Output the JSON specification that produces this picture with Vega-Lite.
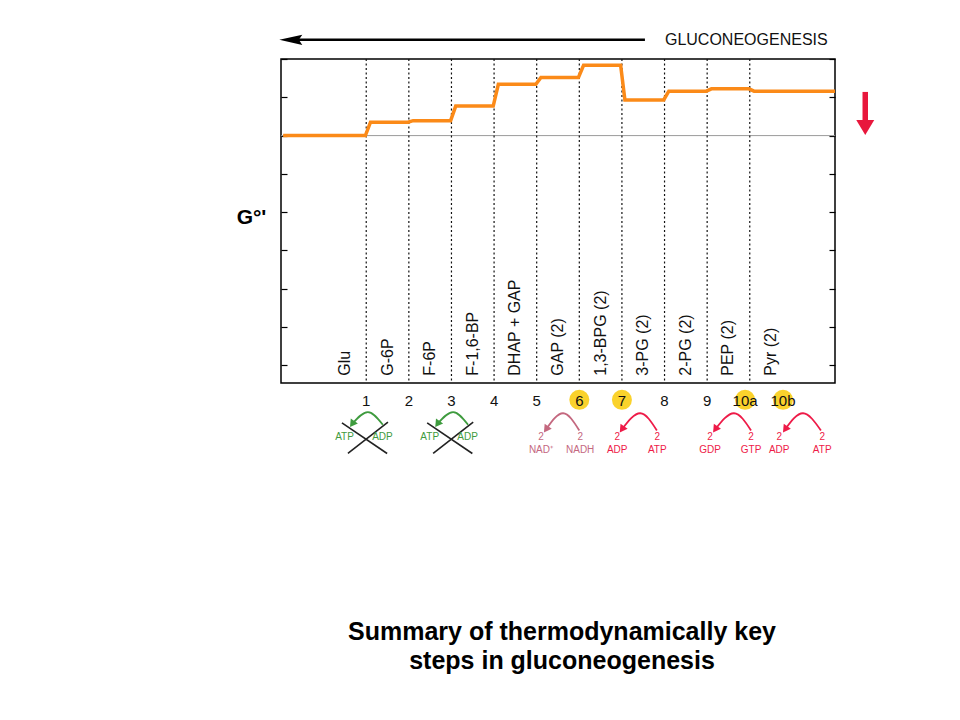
{
  "$schema": "https://vega.github.io/schema/vega-lite/v6.json",
  "autosize": "none",
  "width": 554,
  "height": 324,
  "padding": {"left": 281, "top": 59, "right": 125, "bottom": 337},
  "background": "white",
  "title": {
    "text": ["Summary of thermodynamically key", "steps in gluconeogenesis"],
    "orient": "bottom",
    "anchor": "middle",
    "offset": 165,
    "dx": 4,
    "font": "Liberation Sans",
    "fontSize": 25,
    "fontWeight": "bold",
    "color": "#000",
    "lineHeight": 29
  },
  "config": {
    "font": "Liberation Sans",
    "view": {"stroke": "#000", "strokeWidth": 1.5},
    "text": {"font": "Liberation Sans"}
  },
  "resolve": {"axis": {"y": "independent"}},
  "datasets": {
    "steps": [
      {"x": 0.05, "y": 0}, {"x": 1.98, "y": 0},
      {"x": 2.1, "y": 0.35}, {"x": 2.98, "y": 0.35},
      {"x": 3.1, "y": 0.39}, {"x": 3.98, "y": 0.39},
      {"x": 4.1, "y": 0.77}, {"x": 4.98, "y": 0.77},
      {"x": 5.1, "y": 1.34}, {"x": 5.98, "y": 1.34},
      {"x": 6.1, "y": 1.52}, {"x": 6.98, "y": 1.52},
      {"x": 7.1, "y": 1.835}, {"x": 7.97, "y": 1.835},
      {"x": 8.07, "y": 0.93}, {"x": 8.98, "y": 0.93},
      {"x": 9.1, "y": 1.16}, {"x": 9.98, "y": 1.16},
      {"x": 10.1, "y": 1.22}, {"x": 10.98, "y": 1.22},
      {"x": 11.1, "y": 1.16}, {"x": 13, "y": 1.16}
    ],
    "compounds": [
      {"x": 1.5, "name": "Glu"},
      {"x": 2.5, "name": "G-6P"},
      {"x": 3.5, "name": "F-6P"},
      {"x": 4.5, "name": "F-1,6-BP"},
      {"x": 5.5, "name": "DHAP + GAP"},
      {"x": 6.5, "name": "GAP (2)"},
      {"x": 7.5, "name": "1,3-BPG (2)"},
      {"x": 8.5, "name": "3-PG (2)"},
      {"x": 9.5, "name": "2-PG (2)"},
      {"x": 10.5, "name": "PEP (2)"},
      {"x": 11.5, "name": "Pyr (2)"}
    ],
    "reactions": [
      {"x": 2, "step": "1", "key": false},
      {"x": 3, "step": "2", "key": false},
      {"x": 4, "step": "3", "key": false},
      {"x": 5, "step": "4", "key": false},
      {"x": 6, "step": "5", "key": false},
      {"x": 7, "step": "6", "key": true},
      {"x": 8, "step": "7", "key": true},
      {"x": 9, "step": "8", "key": false},
      {"x": 10, "step": "9", "key": false},
      {"x": 10.89, "step": "10a", "key": true},
      {"x": 11.78, "step": "10b", "key": true}
    ],
    "arcs": [
      {"arc": "s1", "kind": "bypassed", "x": 1.67, "y": -7.53},
      {"arc": "s1", "kind": "bypassed", "x": 2.04, "y": -7.22},
      {"arc": "s1", "kind": "bypassed", "x": 2.39, "y": -7.55},
      {"arc": "s3", "kind": "bypassed", "x": 3.67, "y": -7.53},
      {"arc": "s3", "kind": "bypassed", "x": 4.04, "y": -7.22},
      {"arc": "s3", "kind": "bypassed", "x": 4.39, "y": -7.55},
      {"arc": "s6", "kind": "redox", "x": 6.22, "y": -7.67},
      {"arc": "s6", "kind": "redox", "x": 6.62, "y": -7.25},
      {"arc": "s6", "kind": "redox", "x": 7.0, "y": -7.7},
      {"arc": "s7", "kind": "energy", "x": 8.0, "y": -7.67},
      {"arc": "s7", "kind": "energy", "x": 8.43, "y": -7.25},
      {"arc": "s7", "kind": "energy", "x": 8.82, "y": -7.7},
      {"arc": "s10a", "kind": "energy", "x": 10.19, "y": -7.67},
      {"arc": "s10a", "kind": "energy", "x": 10.63, "y": -7.25},
      {"arc": "s10a", "kind": "energy", "x": 11.03, "y": -7.7},
      {"arc": "s10b", "kind": "energy", "x": 11.83, "y": -7.67},
      {"arc": "s10b", "kind": "energy", "x": 12.25, "y": -7.25},
      {"arc": "s10b", "kind": "energy", "x": 12.67, "y": -7.7}
    ],
    "heads": [
      {"kind": "bypassed", "x": 1.67, "y": -7.53},
      {"kind": "bypassed", "x": 3.67, "y": -7.53},
      {"kind": "redox", "x": 6.22, "y": -7.67},
      {"kind": "energy", "x": 8.0, "y": -7.67},
      {"kind": "energy", "x": 10.19, "y": -7.67},
      {"kind": "energy", "x": 11.83, "y": -7.67}
    ],
    "cofactors": [
      {"kind": "bypassed", "x": 1.49, "y": -7.87, "t": "ATP"},
      {"kind": "bypassed", "x": 2.38, "y": -7.87, "t": "ADP"},
      {"kind": "bypassed", "x": 3.49, "y": -7.87, "t": "ATP"},
      {"kind": "bypassed", "x": 4.38, "y": -7.87, "t": "ADP"},
      {"kind": "redox", "x": 6.1, "y": -7.88, "t": "2"},
      {"kind": "redox", "x": 6.1, "y": -8.2, "t": "NAD⁺"},
      {"kind": "redox", "x": 7.02, "y": -7.88, "t": "2"},
      {"kind": "redox", "x": 7.02, "y": -8.2, "t": "NADH"},
      {"kind": "energy", "x": 7.89, "y": -7.88, "t": "2"},
      {"kind": "energy", "x": 7.89, "y": -8.2, "t": "ADP"},
      {"kind": "energy", "x": 8.83, "y": -7.88, "t": "2"},
      {"kind": "energy", "x": 8.83, "y": -8.2, "t": "ATP"},
      {"kind": "energy", "x": 10.07, "y": -7.88, "t": "2"},
      {"kind": "energy", "x": 10.07, "y": -8.2, "t": "GDP"},
      {"kind": "energy", "x": 11.03, "y": -7.88, "t": "2"},
      {"kind": "energy", "x": 11.03, "y": -8.2, "t": "GTP"},
      {"kind": "energy", "x": 11.69, "y": -7.88, "t": "2"},
      {"kind": "energy", "x": 11.69, "y": -8.2, "t": "ADP"},
      {"kind": "energy", "x": 12.7, "y": -7.88, "t": "2"},
      {"kind": "energy", "x": 12.7, "y": -8.2, "t": "ATP"}
    ],
    "crosses": [
      {"x": 1.43, "y": -7.5, "x2": 2.49, "y2": -8.3},
      {"x": 1.57, "y": -8.3, "x2": 2.51, "y2": -7.48},
      {"x": 3.43, "y": -7.5, "x2": 4.49, "y2": -8.3},
      {"x": 3.57, "y": -8.3, "x2": 4.51, "y2": -7.48}
    ]
  },
  "layer": [
    {
      "data": {"values": [{"y": 0}]},
      "mark": {"type": "rule", "color": "#9a9a9a", "strokeWidth": 1},
      "encoding": {
        "y": {
          "field": "y", "type": "quantitative",
          "scale": {"domain": [-6.46, 2], "nice": false, "zero": false},
          "axis": {
            "orient": "left", "values": [-6, -5, -4, -3, -2, -1, 0, 1, 2],
            "tickSize": -6, "tickColor": "#000", "tickWidth": 1.2,
            "labels": false, "domain": false, "grid": false,
            "title": "G°'", "titleAngle": 0, "titleX": -30, "titleY": 158,
            "titleAlign": "center", "titleBaseline": "middle",
            "titleFont": "Liberation Sans", "titleFontSize": 21, "titleFontWeight": "bold", "titleColor": "#000"
          }
        }
      }
    },
    {
      "data": {"values": [{"x": 2}, {"x": 3}, {"x": 4}, {"x": 5}, {"x": 6}, {"x": 7}, {"x": 8}, {"x": 9}, {"x": 10}, {"x": 11}]},
      "mark": {"type": "rule", "color": "#111", "strokeWidth": 1.2, "strokeDash": [2, 2.5]},
      "encoding": {
        "x": {
          "field": "x", "type": "quantitative",
          "scale": {"domain": [0, 13], "nice": false, "zero": false},
          "axis": {
            "orient": "bottom", "values": [2, 3, 4, 5, 6, 7, 8, 9, 10, 11],
            "tickSize": -5, "tickColor": "#000", "tickWidth": 1.2,
            "labels": false, "domain": false, "grid": false, "title": null
          }
        }
      }
    },
    {
      "data": {"name": "steps"},
      "mark": {"type": "line", "color": "#FB8A18", "strokeWidth": 3.5, "strokeJoin": "miter"},
      "encoding": {
        "x": {"field": "x", "type": "quantitative", "scale": {"domain": [0, 13], "nice": false, "zero": false}, "axis": null},
        "y": {"field": "y", "type": "quantitative", "scale": {"domain": [-6.46, 2], "nice": false, "zero": false},
          "axis": {
            "orient": "right", "values": [-6, -5, -4, -3, -2, -1, 0, 1, 2],
            "tickSize": -6, "tickColor": "#000", "tickWidth": 1.2,
            "labels": false, "domain": false, "grid": false, "title": null
          }
        }
      }
    },
    {
      "data": {"name": "compounds"},
      "mark": {"type": "text", "angle": 270, "align": "left", "baseline": "middle", "fontSize": 16, "color": "#111"},
      "encoding": {
        "x": {"field": "x", "type": "quantitative", "scale": {"domain": [0, 13], "nice": false, "zero": false}, "axis": null},
        "y": {"datum": -6.27, "type": "quantitative", "scale": {"domain": [-6.46, 2], "nice": false, "zero": false}, "axis": null},
        "text": {"field": "name"}
      }
    },
    {
      "data": {"name": "reactions"},
      "transform": [{"filter": "datum.key"}],
      "mark": {"type": "point", "shape": "circle", "filled": true, "opacity": 1, "color": "#FAD22C", "size": 400, "clip": false},
      "encoding": {
        "x": {"field": "x", "type": "quantitative", "scale": {"domain": [0, 13], "nice": false, "zero": false}, "axis": null},
        "y": {"datum": -6.9, "type": "quantitative", "scale": {"domain": [-6.46, 2], "nice": false, "zero": false}, "axis": null}
      }
    },
    {
      "data": {"name": "reactions"},
      "mark": {"type": "text", "fontSize": 15, "baseline": "middle", "align": "center", "color": "#111", "clip": false},
      "encoding": {
        "x": {"field": "x", "type": "quantitative", "scale": {"domain": [0, 13], "nice": false, "zero": false}, "axis": null},
        "y": {"datum": -6.93, "type": "quantitative", "scale": {"domain": [-6.46, 2], "nice": false, "zero": false}, "axis": null},
        "text": {"field": "step"}
      }
    },
    {
      "data": {"name": "crosses"},
      "mark": {"type": "rule", "color": "#222", "strokeWidth": 1.6, "clip": false},
      "encoding": {
        "x": {"field": "x", "type": "quantitative", "scale": {"domain": [0, 13], "nice": false, "zero": false}, "axis": null},
        "y": {"field": "y", "type": "quantitative", "scale": {"domain": [-6.46, 2], "nice": false, "zero": false}, "axis": null},
        "x2": {"field": "x2"},
        "y2": {"field": "y2"}
      }
    },
    {
      "data": {"name": "arcs"},
      "mark": {"type": "line", "strokeWidth": 1.8, "interpolate": "natural", "clip": false},
      "encoding": {
        "x": {"field": "x", "type": "quantitative", "scale": {"domain": [0, 13], "nice": false, "zero": false}, "axis": null},
        "y": {"field": "y", "type": "quantitative", "scale": {"domain": [-6.46, 2], "nice": false, "zero": false}, "axis": null},
        "detail": {"field": "arc"},
        "color": {"field": "kind", "type": "nominal", "scale": {"domain": ["bypassed", "redox", "energy"], "range": ["#3E9B3E", "#C4687F", "#EE1B48"]}, "legend": null}
      }
    },
    {
      "data": {"name": "heads"},
      "mark": {"type": "point", "shape": "triangle-down", "filled": true, "opacity": 1, "size": 75, "angle": 35, "clip": false},
      "encoding": {
        "x": {"field": "x", "type": "quantitative", "scale": {"domain": [0, 13], "nice": false, "zero": false}, "axis": null},
        "y": {"field": "y", "type": "quantitative", "scale": {"domain": [-6.46, 2], "nice": false, "zero": false}, "axis": null},
        "color": {"field": "kind", "type": "nominal", "scale": {"domain": ["bypassed", "redox", "energy"], "range": ["#3E9B3E", "#C4687F", "#EE1B48"]}, "legend": null}
      }
    },
    {
      "data": {"name": "cofactors"},
      "mark": {"type": "text", "fontSize": 10, "align": "center", "baseline": "middle", "clip": false},
      "encoding": {
        "x": {"field": "x", "type": "quantitative", "scale": {"domain": [0, 13], "nice": false, "zero": false}, "axis": null},
        "y": {"field": "y", "type": "quantitative", "scale": {"domain": [-6.46, 2], "nice": false, "zero": false}, "axis": null},
        "text": {"field": "t"},
        "color": {"field": "kind", "type": "nominal", "scale": {"domain": ["bypassed", "redox", "energy"], "range": ["#3E9B3E", "#C4687F", "#EE1B48"]}, "legend": null}
      }
    },
    {
      "data": {"values": [{"from": 0.33, "to": 8.54, "level": 2.5}]},
      "mark": {"type": "rule", "color": "#000", "strokeWidth": 2.5, "clip": false},
      "encoding": {
        "x": {"field": "from", "type": "quantitative", "scale": {"domain": [0, 13], "nice": false, "zero": false}, "axis": null},
        "x2": {"field": "to"},
        "y": {"field": "level", "type": "quantitative", "scale": {"domain": [-6.46, 2], "nice": false, "zero": false}, "axis": null}
      }
    },
    {
      "data": {"values": [{"x": 0.23, "level": 2.5}]},
      "mark": {"type": "point", "shape": "M-1,0L1,-0.45L0.7,0L1,0.45Z", "filled": true, "opacity": 1, "color": "#000", "size": 529, "clip": false},
      "encoding": {
        "x": {"field": "x", "type": "quantitative", "scale": {"domain": [0, 13], "nice": false, "zero": false}, "axis": null},
        "y": {"field": "level", "type": "quantitative", "scale": {"domain": [-6.46, 2], "nice": false, "zero": false}, "axis": null}
      }
    },
    {
      "data": {"values": [{"x": 9.01, "level": 2.5, "label": "GLUCONEOGENESIS"}]},
      "mark": {"type": "text", "align": "left", "baseline": "middle", "fontSize": 16, "color": "#111", "clip": false},
      "encoding": {
        "x": {"field": "x", "type": "quantitative", "scale": {"domain": [0, 13], "nice": false, "zero": false}, "axis": null},
        "y": {"field": "level", "type": "quantitative", "scale": {"domain": [-6.46, 2], "nice": false, "zero": false}, "axis": null},
        "text": {"field": "label"}
      }
    },
    {
      "data": {"values": [{"x": 13.71, "top": 1.14, "bottom": 0.36}]},
      "mark": {"type": "rule", "color": "#E8173C", "strokeWidth": 5.5, "clip": false},
      "encoding": {
        "x": {"field": "x", "type": "quantitative", "scale": {"domain": [0, 13], "nice": false, "zero": false}, "axis": null},
        "y": {"field": "top", "type": "quantitative", "scale": {"domain": [-6.46, 2], "nice": false, "zero": false}, "axis": null},
        "y2": {"field": "bottom"}
      }
    },
    {
      "data": {"values": [{"x": 13.71, "tip": 0.21}]},
      "mark": {"type": "point", "shape": "M-1,-0.83L1,-0.83L0,0.83Z", "filled": true, "opacity": 1, "color": "#E8173C", "size": 324, "clip": false},
      "encoding": {
        "x": {"field": "x", "type": "quantitative", "scale": {"domain": [0, 13], "nice": false, "zero": false}, "axis": null},
        "y": {"field": "tip", "type": "quantitative", "scale": {"domain": [-6.46, 2], "nice": false, "zero": false}, "axis": null}
      }
    }
  ]
}
